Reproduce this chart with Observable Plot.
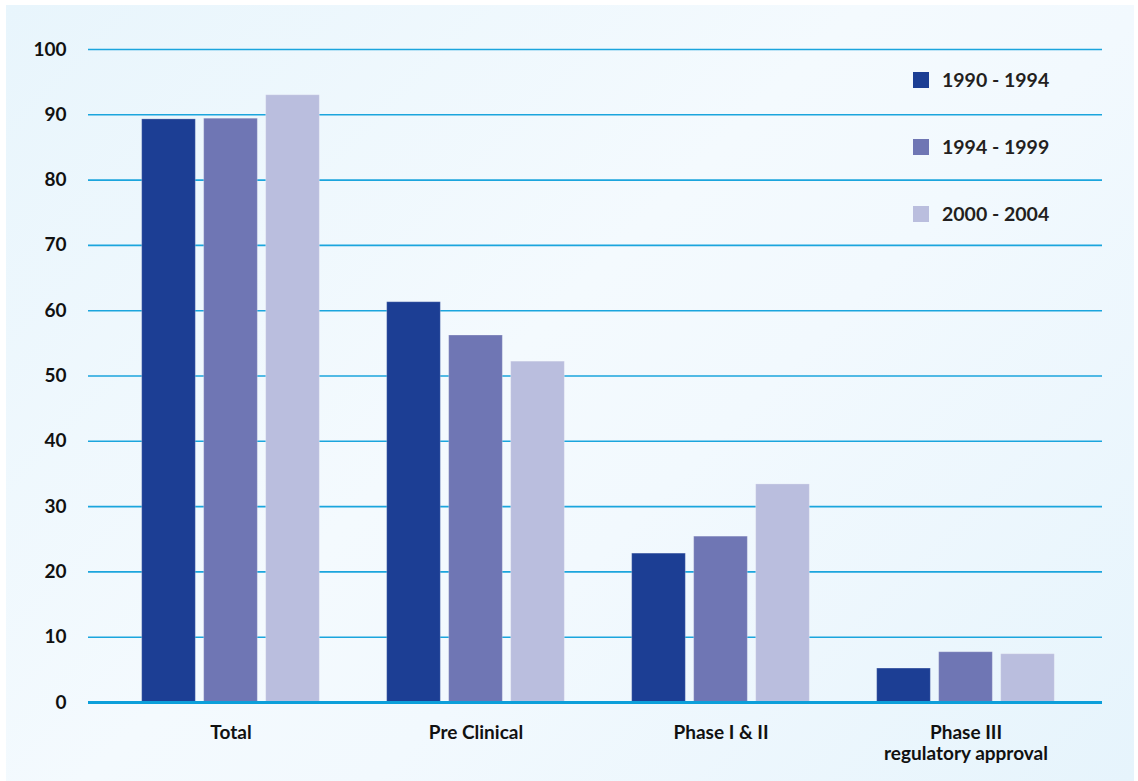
<!DOCTYPE html>
<html>
<head>
<meta charset="utf-8">
<script src="https://cdn.jsdelivr.net/npm/d3@7"></script>
<script src="https://cdn.jsdelivr.net/npm/@observablehq/plot@0.6"></script>
<style>
  html, body { margin: 0; padding: 0; background: #ffffff; }
  #wrap { position: relative; width: 1138px; height: 781px; overflow: hidden; font-family: Lato, "Noto Sans", sans-serif; }
  #panel { position: absolute; left: 6px; top: 5px; width: 1128px; height: 776px;
    background: linear-gradient(135deg, #e8f5fc 0%, #f4fafe 45%, #f2f9fe 60%, #e6f4fc 100%); }
  #chart { position: absolute; left: 0; top: 0; }
  #chart svg { background: transparent !important; }
  #legend { position: absolute; left: 913px; top: 46px; }
  .item { display: flex; align-items: center; height: 67px; }
  .sw { width: 16px; height: 16px; margin-right: 13px; }
  .lab { font-weight: 700; font-size: 19.5px; color: #231f20; }
</style>
</head>
<body>
<div id="wrap">
  <div id="panel"></div>
  <div id="chart"></div>
  <div id="legend"></div>
</div>
<script>
const groups = ["Total", "Pre Clinical", "Phase I & II", "Phase III\nregulatory approval"];
const series = ["1990 - 1994", "1994 - 1999", "2000 - 2004"];
const colors = ["#1c3e94", "#6f76b4", "#babede"];
const values1990 = [89.3, 61.3, 22.8, 5.2];
const values1994 = [89.4, 56.2, 25.4, 7.7];
const values2000 = [93.0, 52.2, 33.4, 7.4];
const yTicks = [0, 10, 20, 30, 40, 50, 60, 70, 80, 90, 100];

const seriesValues = [values1990, values1994, values2000];
const data = series.flatMap((s, i) => groups.map((g, j) => ({group: g, series: s, value: seriesValues[i][j]})));

const barWidth = 54, barGap = 8;
const plotW = 1138, mL = 88, mR = 36;
const pOuter = 0.0666;
const step = (plotW - mL - mR) / (groups.length + 2 * pOuter);
const inset = (step - barWidth) / 2;

const marks = [
  Plot.ruleY(yTicks.filter(d => d > 0), {stroke: "#1ba5dd", strokeWidth: 1.6}),
  ...series.map((s, i) => Plot.barY(data.filter(d => d.series === s), {
    x: "group", y: "value", fill: colors[i],
    stroke: "#ffffff", strokeOpacity: 0.25, strokeWidth: 1,
    insetLeft: inset, insetRight: inset, dx: (i - 1) * (barWidth + barGap)
  })),
  Plot.ruleY([0], {stroke: "#0c9fda", strokeWidth: 3.2}),
  Plot.axisY({ticks: yTicks, tickSize: 0, tickPadding: 22, fontSize: 19, fontWeight: 700, fill: "#111", label: null}),
  Plot.axisX({tickSize: 0, tickPadding: 22, fontSize: 19, fontWeight: 700, fill: "#111", lineHeight: 1.1, label: null})
];

const chart = Plot.plot({
  width: plotW, height: 781,
  marginLeft: mL, marginRight: mR, marginTop: 49, marginBottom: 79,
  style: {background: "transparent", fontFamily: "Lato, 'Noto Sans', sans-serif"},
  x: {domain: groups, paddingInner: 0, paddingOuter: pOuter, align: 0.59, axis: null},
  y: {domain: [0, 100], axis: null},
  marks
});
document.getElementById("chart").appendChild(chart);

const legend = document.getElementById("legend");
series.forEach((s, i) => {
  const it = document.createElement("div");
  it.className = "item";
  it.innerHTML = `<div class="sw" style="background:${colors[i]}"></div><div class="lab">${s}</div>`;
  legend.appendChild(it);
});
</script>
</body>
</html>
